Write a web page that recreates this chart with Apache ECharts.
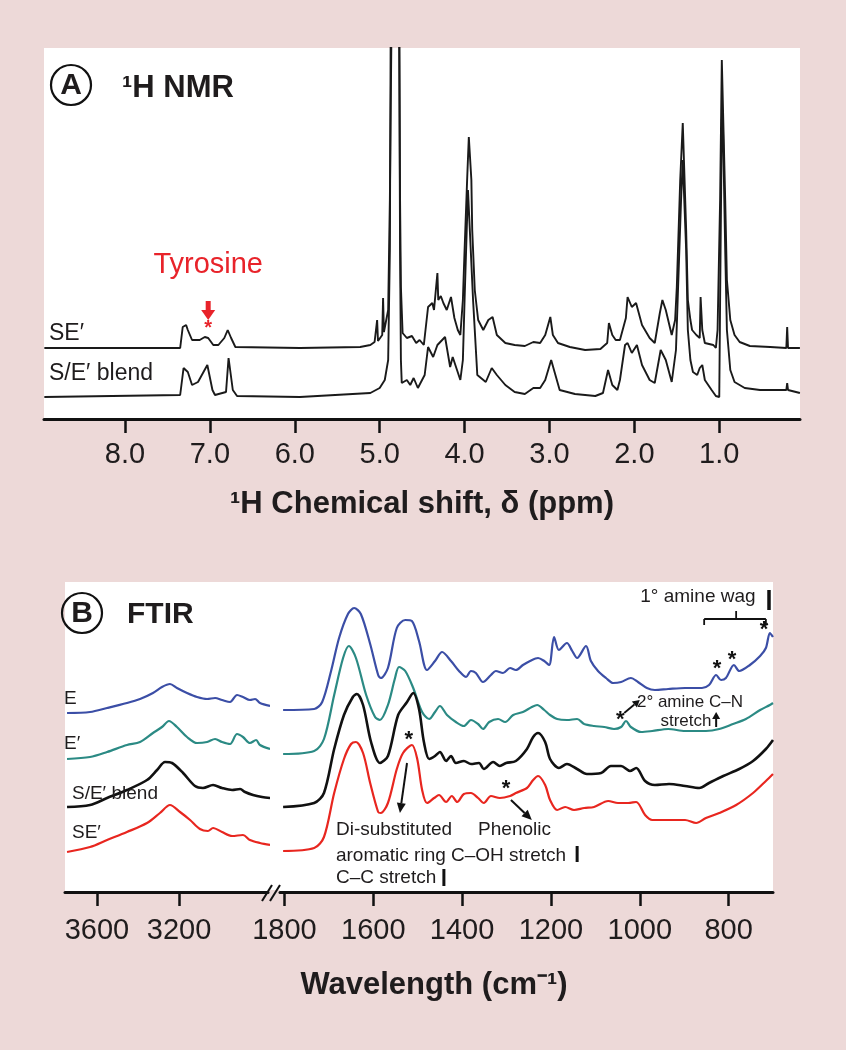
<!DOCTYPE html>
<html><head><meta charset="utf-8">
<script src="https://cdn.jsdelivr.net/npm/echarts@6/dist/echarts.min.js"></script>
<style>html,body{margin:0;padding:0;background:#EDD9D8;}#c{width:846px;height:1050px;}</style>
</head><body><div id="c"></div>
<script>
// ---------- DATA ----------
const nmrTicks = [8, 7, 6, 5, 4, 3, 2, 1];
const ftirTicksHigh = [3600, 3200];
const ftirTicksLow = [1800, 1600, 1400, 1200, 1000, 800];

// 1H NMR traces: [chemical shift (ppm), intensity (a.u., stacked)]
const nmrSE = [[8.95,0.71],[7.35,0.71],[7.32,0.92],[7.28,0.94],[7.26,0.89],[7.21,0.79],[7.12,0.79],[7.06,0.82],[7.02,0.81],[6.96,0.74],[6.90,0.74],[6.83,0.81],[6.79,0.89],[6.75,0.81],[6.70,0.72],[5.94,0.71],[5.23,0.72],[5.11,0.74],[5.06,0.77],[5.03,0.99],[5.02,0.78],[4.97,0.84],[4.96,1.21],[4.95,0.87],[4.90,1.09],[4.88,2.19],[4.86,4.0],[4.77,4.0],[4.76,2.19],[4.75,1.32],[4.74,1.32],[4.73,0.86],[4.68,0.81],[4.62,0.83],[4.57,0.76],[4.53,0.79],[4.48,0.74],[4.43,1.12],[4.38,1.16],[4.36,1.09],[4.32,1.46],[4.31,1.19],[4.28,1.23],[4.25,1.16],[4.21,1.09],[4.16,1.22],[4.12,1.01],[4.08,0.89],[4.05,0.84],[4.02,1.19],[4.00,1.69],[3.97,2.39],[3.95,2.82],[3.92,2.39],[3.91,1.89],[3.88,1.29],[3.84,0.99],[3.78,0.89],[3.72,0.99],[3.67,1.02],[3.62,0.84],[3.52,0.76],[3.41,0.74],[3.29,0.73],[3.19,0.77],[3.11,0.76],[3.05,0.84],[2.99,1.02],[2.96,0.84],[2.90,0.76],[2.76,0.72],[2.58,0.69],[2.40,0.70],[2.32,0.76],[2.30,0.96],[2.26,0.84],[2.22,0.79],[2.17,0.79],[2.10,1.01],[2.08,1.22],[2.03,1.12],[1.98,1.16],[1.91,0.94],[1.82,0.81],[1.76,0.76],[1.70,1.06],[1.67,1.19],[1.63,1.09],[1.56,0.84],[1.52,0.99],[1.50,1.32],[1.46,2.39],[1.43,2.96],[1.39,1.89],[1.37,1.19],[1.34,0.99],[1.32,0.89],[1.27,0.84],[1.23,0.81],[1.22,1.22],[1.20,0.89],[1.17,0.76],[1.07,0.74],[1.04,0.71],[1.02,0.89],[0.99,2.19],[0.97,3.59],[0.96,3.61],[0.93,2.19],[0.91,1.39],[0.87,0.99],[0.82,0.84],[0.76,0.77],[0.64,0.73],[0.40,0.72],[0.21,0.71],[0.20,0.92],[0.19,0.71],[0.05,0.71]];
const nmrBlend = [[8.95,0.22],[7.35,0.24],[7.31,0.51],[7.26,0.47],[7.21,0.34],[7.14,0.37],[7.03,0.54],[6.97,0.29],[6.94,0.24],[6.81,0.27],[6.78,0.61],[6.73,0.29],[6.68,0.23],[5.94,0.22],[5.11,0.26],[5.00,0.31],[4.94,0.39],[4.90,0.59],[4.88,1.69],[4.87,4.0],[4.77,4.0],[4.76,1.69],[4.75,0.59],[4.74,0.36],[4.68,0.39],[4.64,0.34],[4.60,0.41],[4.55,0.31],[4.53,0.32],[4.47,0.44],[4.43,0.72],[4.37,0.62],[4.32,0.74],[4.23,0.82],[4.17,0.52],[4.14,0.62],[4.05,0.39],[4.02,0.59],[4.00,1.19],[3.96,2.29],[3.94,2.29],[3.90,1.19],[3.85,0.44],[3.75,0.37],[3.68,0.51],[3.62,0.44],[3.52,0.34],[3.41,0.27],[3.29,0.25],[3.19,0.31],[3.11,0.31],[3.05,0.39],[2.98,0.59],[2.94,0.47],[2.88,0.29],[2.70,0.25],[2.46,0.23],[2.37,0.26],[2.31,0.49],[2.26,0.34],[2.20,0.29],[2.17,0.39],[2.11,0.74],[2.08,0.76],[2.03,0.66],[1.97,0.74],[1.91,0.54],[1.82,0.39],[1.76,0.36],[1.69,0.69],[1.63,0.59],[1.56,0.37],[1.51,0.69],[1.49,1.19],[1.45,2.19],[1.43,2.59],[1.39,1.69],[1.37,0.89],[1.34,0.59],[1.31,0.47],[1.26,0.44],[1.23,0.51],[1.20,0.54],[1.17,0.39],[1.09,0.29],[1.04,0.23],[1.00,0.22],[0.99,1.19],[0.97,2.99],[0.96,3.09],[0.93,1.69],[0.91,0.89],[0.87,0.49],[0.82,0.37],[0.70,0.31],[0.52,0.29],[0.21,0.29],[0.20,0.36],[0.19,0.29],[0.05,0.26]];

// FTIR traces: [wavenumber (cm-1), absorbance (a.u., stacked)]
const ftirE_high = [[3746,1.79],[3634,1.80],[3551,1.84],[3454,1.89],[3390,1.93],[3327,1.99],[3283,2.05],[3244,2.08],[3210,2.04],[3161,1.99],[3112,1.95],[3063,1.93],[3024,1.94],[2990,1.92],[2951,1.90],[2917,1.97],[2888,1.95],[2854,1.92],[2829,1.93],[2805,1.89],[2756,1.86]];
const ftirEp_high = [[3746,1.33],[3634,1.35],[3551,1.40],[3454,1.47],[3390,1.50],[3327,1.59],[3283,1.65],[3249,1.71],[3210,1.65],[3161,1.55],[3112,1.49],[3063,1.50],[3024,1.53],[2990,1.50],[2951,1.48],[2917,1.58],[2888,1.55],[2854,1.49],[2824,1.52],[2805,1.47],[2756,1.43]];
const ftirBlend_high = [[3746,0.85],[3634,0.87],[3551,0.94],[3454,1.02],[3356,1.12],[3307,1.22],[3268,1.30],[3234,1.29],[3180,1.19],[3122,1.06],[3083,1.04],[3034,1.07],[2990,1.04],[2941,1.02],[2902,1.03],[2878,1.00],[2839,0.97],[2795,0.95],[2756,0.94]];
const ftirSE_high = [[3746,0.40],[3634,0.45],[3551,0.52],[3454,0.60],[3356,0.69],[3293,0.79],[3244,0.87],[3195,0.80],[3146,0.72],[3098,0.63],[3059,0.61],[3034,0.64],[2990,0.60],[2941,0.56],[2888,0.57],[2854,0.52],[2805,0.49],[2756,0.47]];

const ftirE_low = [[1803,1.82],[1733,1.83],[1715,1.90],[1695,2.21],[1677,2.54],[1657,2.78],[1643,2.84],[1628,2.78],[1607,2.48],[1589,2.17],[1583,2.14],[1567,2.24],[1547,2.64],[1528,2.72],[1513,2.71],[1497,2.51],[1479,2.22],[1461,2.31],[1445,2.40],[1425,2.31],[1407,2.21],[1391,2.15],[1380,2.21],[1369,2.19],[1353,2.10],[1335,2.17],[1324,2.21],[1308,2.19],[1292,2.24],[1279,2.22],[1263,2.27],[1247,2.31],[1229,2.34],[1215,2.31],[1204,2.27],[1193,2.55],[1182,2.42],[1164,2.49],[1152,2.41],[1141,2.34],[1121,2.46],[1110,2.31],[1094,2.21],[1076,2.14],[1060,2.09],[1042,2.10],[1020,2.14],[1004,2.10],[984,2.04],[966,2.02],[936,2.03],[898,2.04],[860,2.04],[844,2.07],[828,2.17],[817,2.12],[806,2.14],[788,2.27],[776,2.21],[752,2.27],[729,2.36],[716,2.44],[707,2.59],[700,2.55]];
const ftirEp_low = [[1803,1.38],[1733,1.41],[1711,1.53],[1688,1.97],[1668,2.34],[1655,2.46],[1639,2.34],[1616,1.97],[1596,1.75],[1585,1.72],[1567,1.87],[1551,2.14],[1542,2.25],[1528,2.21],[1510,2.04],[1490,1.80],[1474,1.73],[1461,1.80],[1450,1.86],[1434,1.77],[1414,1.70],[1396,1.66],[1380,1.72],[1364,1.68],[1353,1.63],[1339,1.70],[1319,1.73],[1303,1.70],[1285,1.77],[1263,1.80],[1243,1.85],[1231,1.87],[1215,1.82],[1202,1.77],[1186,1.73],[1164,1.72],[1141,1.73],[1125,1.68],[1103,1.66],[1080,1.65],[1058,1.63],[1042,1.65],[1031,1.71],[1020,1.65],[997,1.60],[972,1.61],[936,1.63],[898,1.61],[851,1.61],[821,1.63],[790,1.68],[761,1.73],[729,1.82],[707,1.87],[700,1.89]];
const ftirBlend_low = [[1803,0.85],[1733,0.89],[1711,0.99],[1688,1.43],[1666,1.77],[1646,1.95],[1637,1.98],[1623,1.87],[1605,1.50],[1585,1.29],[1567,1.36],[1544,1.77],[1524,1.90],[1510,1.99],[1497,1.83],[1486,1.50],[1474,1.33],[1461,1.36],[1450,1.40],[1436,1.31],[1425,1.36],[1414,1.29],[1396,1.31],[1380,1.28],[1362,1.29],[1351,1.23],[1330,1.30],[1315,1.26],[1301,1.29],[1279,1.31],[1254,1.43],[1240,1.55],[1229,1.59],[1213,1.50],[1202,1.33],[1182,1.24],[1164,1.28],[1141,1.23],[1119,1.18],[1087,1.19],[1065,1.26],[1042,1.26],[1022,1.21],[1008,1.24],[988,1.11],[966,1.07],[934,1.08],[898,1.06],[866,1.04],[844,1.09],[812,1.16],[776,1.23],[745,1.31],[716,1.43],[700,1.52]];
const ftirSE_low = [[1803,0.41],[1733,0.44],[1711,0.55],[1688,0.99],[1666,1.33],[1650,1.48],[1639,1.50],[1623,1.39],[1607,1.09],[1589,0.80],[1583,0.79],[1567,0.89],[1547,1.23],[1533,1.39],[1513,1.47],[1501,1.33],[1490,1.02],[1479,0.89],[1463,0.94],[1452,0.97],[1436,0.90],[1423,0.96],[1411,0.90],[1396,0.98],[1380,0.99],[1364,0.94],[1351,0.89],[1335,0.96],[1315,0.94],[1292,0.96],[1279,0.99],[1254,1.04],[1240,1.12],[1229,1.16],[1213,1.07],[1202,0.92],[1186,0.82],[1168,0.85],[1148,0.82],[1125,0.84],[1103,0.85],[1071,0.91],[1049,0.89],[1026,0.89],[1008,0.90],[988,0.77],[972,0.72],[934,0.72],[898,0.72],[873,0.69],[851,0.74],[821,0.79],[783,0.87],[745,0.99],[716,1.11],[700,1.18]];

// ---------- STYLE / LAYOUT ----------
const FONT = '"Liberation Sans", Arial, Helvetica, sans-serif';
const BG = '#EDD9D8';
const INK = '#1f1c1d';
const C_BLUE = '#3B4EA6', C_TEAL = '#2B8A84', C_BLACK = '#111111', C_RED = '#E8261F';

function xAxisCfg(grid, min, max, ticks, fmt, margin, extra) {
  return Object.assign({
    gridIndex: grid, type: 'value', inverse: true, min: min, max: max,
    axisLine: {show: true, lineStyle: {color: '#111', width: 3}},
    axisTick: {show: true, customValues: ticks, length: 14, lineStyle: {color: '#111', width: 2.5}},
    axisLabel: {show: true, customValues: ticks, formatter: fmt, fontSize: 29, color: INK, margin: margin, fontFamily: FONT},
    splitLine: {show: false}
  }, extra || {});
}
function yAxisCfg(grid, max) {
  return {gridIndex: grid, type: 'value', min: 0, max: max, show: false, splitLine: {show: false}};
}
function lineSeries(name, data, xi, color, width, smooth) {
  return {name: name, type: 'line', xAxisIndex: xi, yAxisIndex: xi, data: data, showSymbol: false,
    symbol: 'none', smooth: smooth, clip: true, lineStyle: {color: color, width: width}, silent: true};
}

const option = {
  backgroundColor: BG,
  animation: false,
  grid: [
    {left: 44, top: 48, width: 756, height: 371, show: true, backgroundColor: '#fff', borderWidth: 0},
    {left: 65, top: 582, width: 203, height: 310, show: true, backgroundColor: '#fff', borderWidth: 0},
    {left: 280, top: 582, width: 493, height: 310, show: true, backgroundColor: '#fff', borderWidth: 0}
  ],
  xAxis: [
    xAxisCfg(0, 0.049, 8.954, nmrTicks, v => v.toFixed(1), 21, {
      name: '¹H Chemical shift, δ (ppm)', nameLocation: 'middle', nameGap: 70,
      nameTextStyle: {fontSize: 31, fontWeight: 'bold', color: INK, fontFamily: FONT}
    }),
    xAxisCfg(1, 2766, 3756, ftirTicksHigh, v => String(v), 24),
    xAxisCfg(2, 700, 1810, ftirTicksLow, v => String(v), 24)
  ],
  yAxis: [yAxisCfg(0, 3.71), yAxisCfg(1, 3.10), yAxisCfg(2, 3.10)],
  series: [
    lineSeries('SE′', nmrSE, 0, '#1a1a1a', 1.9, false),
    lineSeries('S/E′ blend', nmrBlend, 0, '#1a1a1a', 1.9, false),
    lineSeries('E', ftirE_high, 1, C_BLUE, 2.2, 0.3),
    lineSeries('E′', ftirEp_high, 1, C_TEAL, 2.2, 0.3),
    lineSeries('S/E′ blend', ftirBlend_high, 1, C_BLACK, 2.6, 0.3),
    lineSeries('SE′', ftirSE_high, 1, C_RED, 2.2, 0.3),
    lineSeries('E', ftirE_low, 2, C_BLUE, 2.2, 0.3),
    lineSeries('E′', ftirEp_low, 2, C_TEAL, 2.2, 0.3),
    lineSeries('S/E′ blend', ftirBlend_low, 2, C_BLACK, 2.6, 0.3),
    lineSeries('SE′', ftirSE_low, 2, C_RED, 2.2, 0.3)
  ]
};

const chart = echarts.init(document.getElementById('c'), null, {renderer: 'canvas'});
chart.setOption(option);

// ---------- ANNOTATIONS ----------
const P = (g, x, y) => chart.convertToPixel({gridIndex: g}, [x, y]);
const G = [];
function txt(x, y, s, o) {
  o = o || {};
  G.push({type: 'text', x: x, y: y, z: 20, style: {text: s, fill: o.color || INK, fontSize: o.size || 19,
    fontWeight: o.weight || 'normal', fontFamily: FONT, align: o.align || 'left', verticalAlign: 'middle'}});
}
function ln(x1, y1, x2, y2, w, color) {
  G.push({type: 'line', z: 20, shape: {x1: x1, y1: y1, x2: x2, y2: y2}, style: {stroke: color || '#111', lineWidth: w || 1.5}});
}
function poly(pts, color) {
  G.push({type: 'polygon', z: 20, shape: {points: pts}, style: {fill: color || '#111'}});
}
function arrow(a, b, color, w, hl, hw) {
  const dx = b[0] - a[0], dy = b[1] - a[1], L = Math.hypot(dx, dy), ux = dx / L, uy = dy / L;
  const bx = b[0] - ux * hl, by = b[1] - uy * hl;
  ln(a[0], a[1], bx, by, w, color);
  poly([[b[0], b[1]], [bx - uy * hw, by + ux * hw], [bx + uy * hw, by - ux * hw]], color);
}
function star(p, color, size) {
  txt(p[0], p[1] + 4, '*', {color: color || '#111', size: size || 22, align: 'center', weight: 'bold'});
}

// Panel A
G.push({type: 'circle', z: 20, shape: {cx: 71, cy: 85, r: 20}, style: {fill: 'none', stroke: '#111', lineWidth: 2.2}});
txt(71, 86, 'A', {size: 30, align: 'center', weight: 'bold'});
txt(122, 88, '¹H NMR', {size: 31, weight: 'bold'});
txt(49, 334, 'SE′', {size: 23});
txt(49, 374, 'S/E′ blend', {size: 23});
const ty = P(0, 7.02, 1.54);
txt(ty[0], ty[1], 'Tyrosine', {size: 29, color: '#E8232A', align: 'center'});
arrow(P(0, 7.02, 1.18), P(0, 7.02, 0.99), '#E8232A', 5, 10, 7);
star(P(0, 7.02, 0.95), '#E8232A', 20);

// Panel B
G.push({type: 'circle', z: 20, shape: {cx: 82, cy: 613, r: 20}, style: {fill: 'none', stroke: '#111', lineWidth: 2.2}});
txt(82, 614, 'B', {size: 30, align: 'center', weight: 'bold'});
txt(127, 615, 'FTIR', {size: 30, weight: 'bold'});
txt(64, 699, 'E', {size: 19});
txt(64, 744, 'E′', {size: 19});
txt(72, 794, 'S/E′ blend', {size: 19});
txt(72, 833, 'SE′', {size: 19});

// fill between the two broken-axis grids, and break marks
G.push({type: 'rect', z: 1, shape: {x: 268, y: 582, width: 12, height: 308}, style: {fill: '#fff'}});
ln(262, 901, 272, 885, 2);
ln(270, 901, 280, 885, 2);

// annotations on right segment (grid 2)
const a1 = P(2, 869, 2.95);
txt(a1[0], a1[1], '1° amine wag', {size: 19, align: 'center'});
const bt = P(2, 709, 3.02), bb = P(2, 709, 2.82);
ln(bt[0], bt[1], bb[0], bb[1], 3.5);
const brL = P(2, 855, 2.73), brR = P(2, 716, 2.73), brC = P(2, 783, 2.81), brD = P(2, 855, 2.67);
ln(brL[0], brL[1], brR[0], brR[1], 1.8);
ln(brL[0], brL[1], brL[0], brD[1], 1.8);
ln(brR[0], brR[1], brR[0], brD[1], 1.8);
ln(brC[0], brC[1], brC[0], brL[1], 1.8);
star(P(2, 720, 2.66));
star(P(2, 826, 2.27));
star(P(2, 792, 2.36));
star(P(2, 1044, 1.76));
arrow(P(2, 1035, 1.79), P(2, 1000, 1.92), '#111', 1.8, 7, 4);
const t2 = P(2, 887, 1.90);
txt(t2[0], t2[1], '2° amine C–N', {size: 17, align: 'center'});
const t3 = P(2, 896, 1.71);
txt(t3[0], t3[1], 'stretch', {size: 17, align: 'center'});
arrow(P(2, 828, 1.65), P(2, 828, 1.80), '#111', 2, 7, 4);
star(P(2, 1520, 1.56));
arrow(P(2, 1524, 1.29), P(2, 1540, 0.79), '#111', 2, 10, 4.5);
star(P(2, 1301, 1.07));
arrow(P(2, 1290, 0.92), P(2, 1243, 0.72), '#111', 2, 10, 4.5);
const d1 = P(2, 1684, 0.62), d2 = P(2, 1684, 0.36), d3 = P(2, 1684, 0.14), ph = P(2, 1364, 0.62);
txt(d1[0], d1[1], 'Di-substituted', {size: 19});
txt(ph[0], ph[1], 'Phenolic', {size: 19});
txt(d2[0], d2[1], 'aromatic ring C–OH stretch', {size: 19});
txt(d3[0], d3[1], 'C–C stretch', {size: 19});
const m1a = P(2, 1141, 0.46), m1b = P(2, 1141, 0.30);
ln(m1a[0], m1a[1], m1b[0], m1b[1], 3);
const m2a = P(2, 1441, 0.23), m2b = P(2, 1441, 0.06);
ln(m2a[0], m2a[1], m2b[0], m2b[1], 3);

// panel B axis title
txt(434, 985, 'Wavelength (cm⁻¹)', {size: 31, weight: 'bold', align: 'center'});

chart.setOption({graphic: G});
</script></body></html>
